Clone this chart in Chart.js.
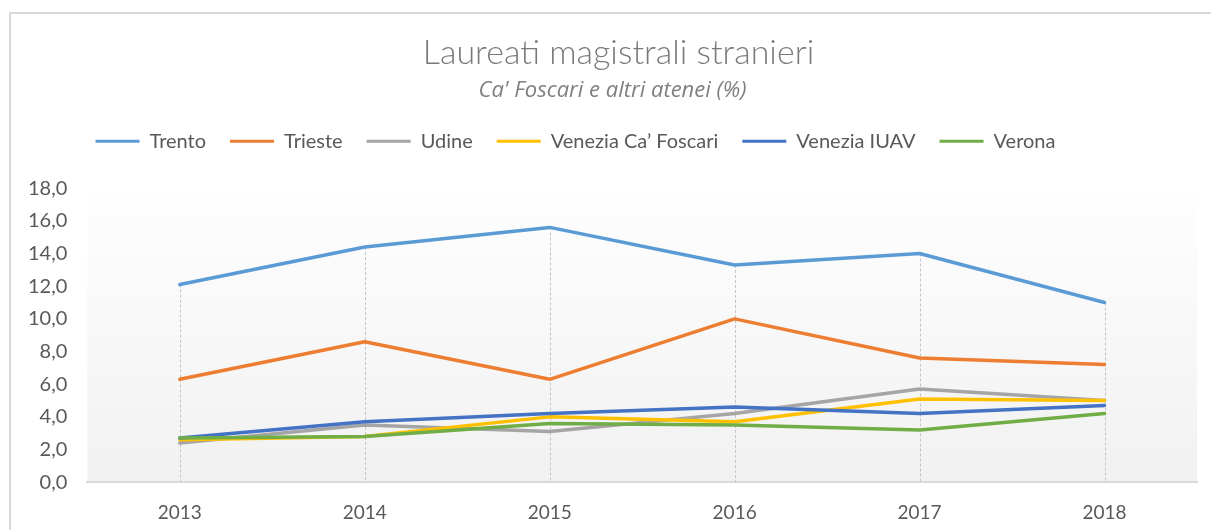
<!DOCTYPE html>
<html lang="it">
<head>
<meta charset="utf-8">
<title>Laureati magistrali stranieri</title>
<script src="https://cdn.jsdelivr.net/npm/chart.js@4.4.1/dist/chart.umd.min.js"></script>
<style>
  html, body { margin: 0; padding: 0; background: #fff; overflow: hidden; }
  #wrap { position: relative; width: 1211px; height: 530px; }
  #frame { position: absolute; left: 9px; top: 12px; width: 1400px; height: 700px;
           border: 2px solid #d9d9d9; box-sizing: border-box; }
  #chart { position: absolute; left: 0; top: 0; }
</style>
</head>
<body>
<div id="wrap">
  <div id="frame"></div>
  <canvas id="chart" width="1211" height="530"></canvas>
</div>
<script>
// values
const YEARS = ['2013', '2014', '2015', '2016', '2017', '2018'];
const TRENTO = [12.1, 14.4, 15.6, 13.3, 14.0, 11.0];
const TRIESTE = [6.3, 8.6, 6.3, 10.0, 7.6, 7.2];
const UDINE = [2.4, 3.5, 3.1, 4.2, 5.7, 5.0];
const VENEZIA_CF = [2.6, 2.8, 4.0, 3.7, 5.1, 5.0];
const VENEZIA_IUAV = [2.7, 3.7, 4.2, 4.6, 4.2, 4.7];
const VERONA = [2.7, 2.8, 3.6, 3.5, 3.2, 4.2];

const SERIES = [
  { label: 'Trento', data: TRENTO, color: '#5b9bd5' },
  { label: 'Trieste', data: TRIESTE, color: '#ed7d31' },
  { label: 'Udine', data: UDINE, color: '#a5a5a5' },
  { label: 'Venezia Ca’ Foscari', data: VENEZIA_CF, color: '#ffc000' },
  { label: 'Venezia IUAV', data: VENEZIA_IUAV, color: '#4472c4' },
  { label: 'Verona', data: VERONA, color: '#70ad47' },
];

const TEXT_COLOR = '#595959';

Chart.defaults.font.family = 'Lato, "Open Sans", sans-serif';
Chart.defaults.color = TEXT_COLOR;

// light gradient behind the plot area
const plotBackground = {
  id: 'plotBackground',
  beforeDraw(chart) {
    const { ctx, chartArea: a } = chart;
    const g = ctx.createLinearGradient(0, a.top, 0, a.bottom);
    g.addColorStop(0, '#ffffff');
    g.addColorStop(0.1, '#fdfdfd');
    g.addColorStop(1, '#f1f1f1');
    ctx.save();
    ctx.fillStyle = g;
    ctx.fillRect(a.left, a.top, a.right - a.left, a.bottom - a.top);
    ctx.restore();
  },
};

// Excel-style drop lines: from the highest point of each category down to the axis
const dropLines = {
  id: 'dropLines',
  beforeDatasetsDraw(chart) {
    const { ctx, chartArea: a, scales } = chart;
    ctx.save();
    ctx.strokeStyle = '#c4c4c4';
    ctx.lineWidth = 1;
    ctx.setLineDash([3, 2]);
    YEARS.forEach((_, i) => {
      const top = Math.max(...SERIES.map((s) => s.data[i]));
      const x = Math.round(scales.x.getPixelForValue(i)) + 0.5;
      ctx.beginPath();
      ctx.moveTo(x, scales.y.getPixelForValue(top));
      ctx.lineTo(x, a.bottom);
      ctx.stroke();
    });
    ctx.restore();
  },
};

// extra room under the legend, and horizontal nudges for the header boxes
const headerTweaks = {
  id: 'headerTweaks',
  afterInit(chart) {
    const legend = chart.legend;
    const fit = legend.fit;
    legend.fit = function () {
      fit.call(this);
      this.height += 27;
    };
  },
  afterLayout(chart) {
    const shift = (box, dx) => {
      if (!box) return;
      box.left += dx;
      box.right += dx;
    };
    shift(chart.legend, -37);
    shift(chart.titleBlock, 6);
  },
};

new Chart(document.getElementById('chart'), {
  type: 'line',
  data: {
    labels: YEARS,
    datasets: SERIES.map((s, i) => ({
      label: s.label,
      data: s.data,
      borderColor: s.color,
      backgroundColor: s.color,
      borderWidth: 3.5,
      borderCapStyle: 'round',
      borderJoinStyle: 'round',
      pointRadius: 0,
      pointHoverRadius: 0,
      tension: 0,
      order: SERIES.length - i, // last series painted on top, as in Excel
    })),
  },
  plugins: [plotBackground, dropLines, headerTweaks],
  options: {
    responsive: false,
    animation: false,
    devicePixelRatio: 1,
    layout: { padding: { top: 33, left: 28, right: 14, bottom: 6 } },
    plugins: {
      title: {
        display: true,
        text: 'Laureati magistrali stranieri',
        color: '#7a7a7a',
        font: { size: 34, weight: '300', lineHeight: 1.2 },
        padding: { top: 0, bottom: 4 },
      },
      subtitle: {
        display: true,
        text: "Ca' Foscari e altri atenei (%)",
        color: '#7f7f7f',
        font: { family: '"Open Sans", Lato, sans-serif', size: 22, style: 'italic', lineHeight: 1.2 },
        padding: { top: 0, bottom: 3 },
      },
      legend: {
        position: 'top',
        labels: {
          boxWidth: 44,
          boxHeight: 3,
          padding: 24,
          color: TEXT_COLOR,
          font: { size: 20 },
          sort: (a, b) => a.datasetIndex - b.datasetIndex,
          generateLabels(chart) {
            return Chart.defaults.plugins.legend.labels.generateLabels(chart)
              .map((item) => ({ ...item, lineWidth: 0 }));
          },
        },
      },
      tooltip: { enabled: false },
    },
    scales: {
      x: {
        offset: true,
        grid: { display: false, drawTicks: false },
        border: { display: true, color: '#d9d9d9', width: 2 },
        ticks: { padding: 19, color: TEXT_COLOR, font: { size: 19 } },
        afterFit: (scale) => { scale.height -= 19; },
      },
      y: {
        min: 0,
        max: 18,
        grid: { display: false, drawTicks: false },
        border: { display: false },
        ticks: {
          stepSize: 2,
          padding: 20,
          color: TEXT_COLOR,
          font: { size: 20 },
          callback: (v) => v.toFixed(1).replace('.', ','),
        },
        afterFit: (scale) => { scale.width -= 20; },
      },
    },
  },
});
</script>
</body>
</html>
